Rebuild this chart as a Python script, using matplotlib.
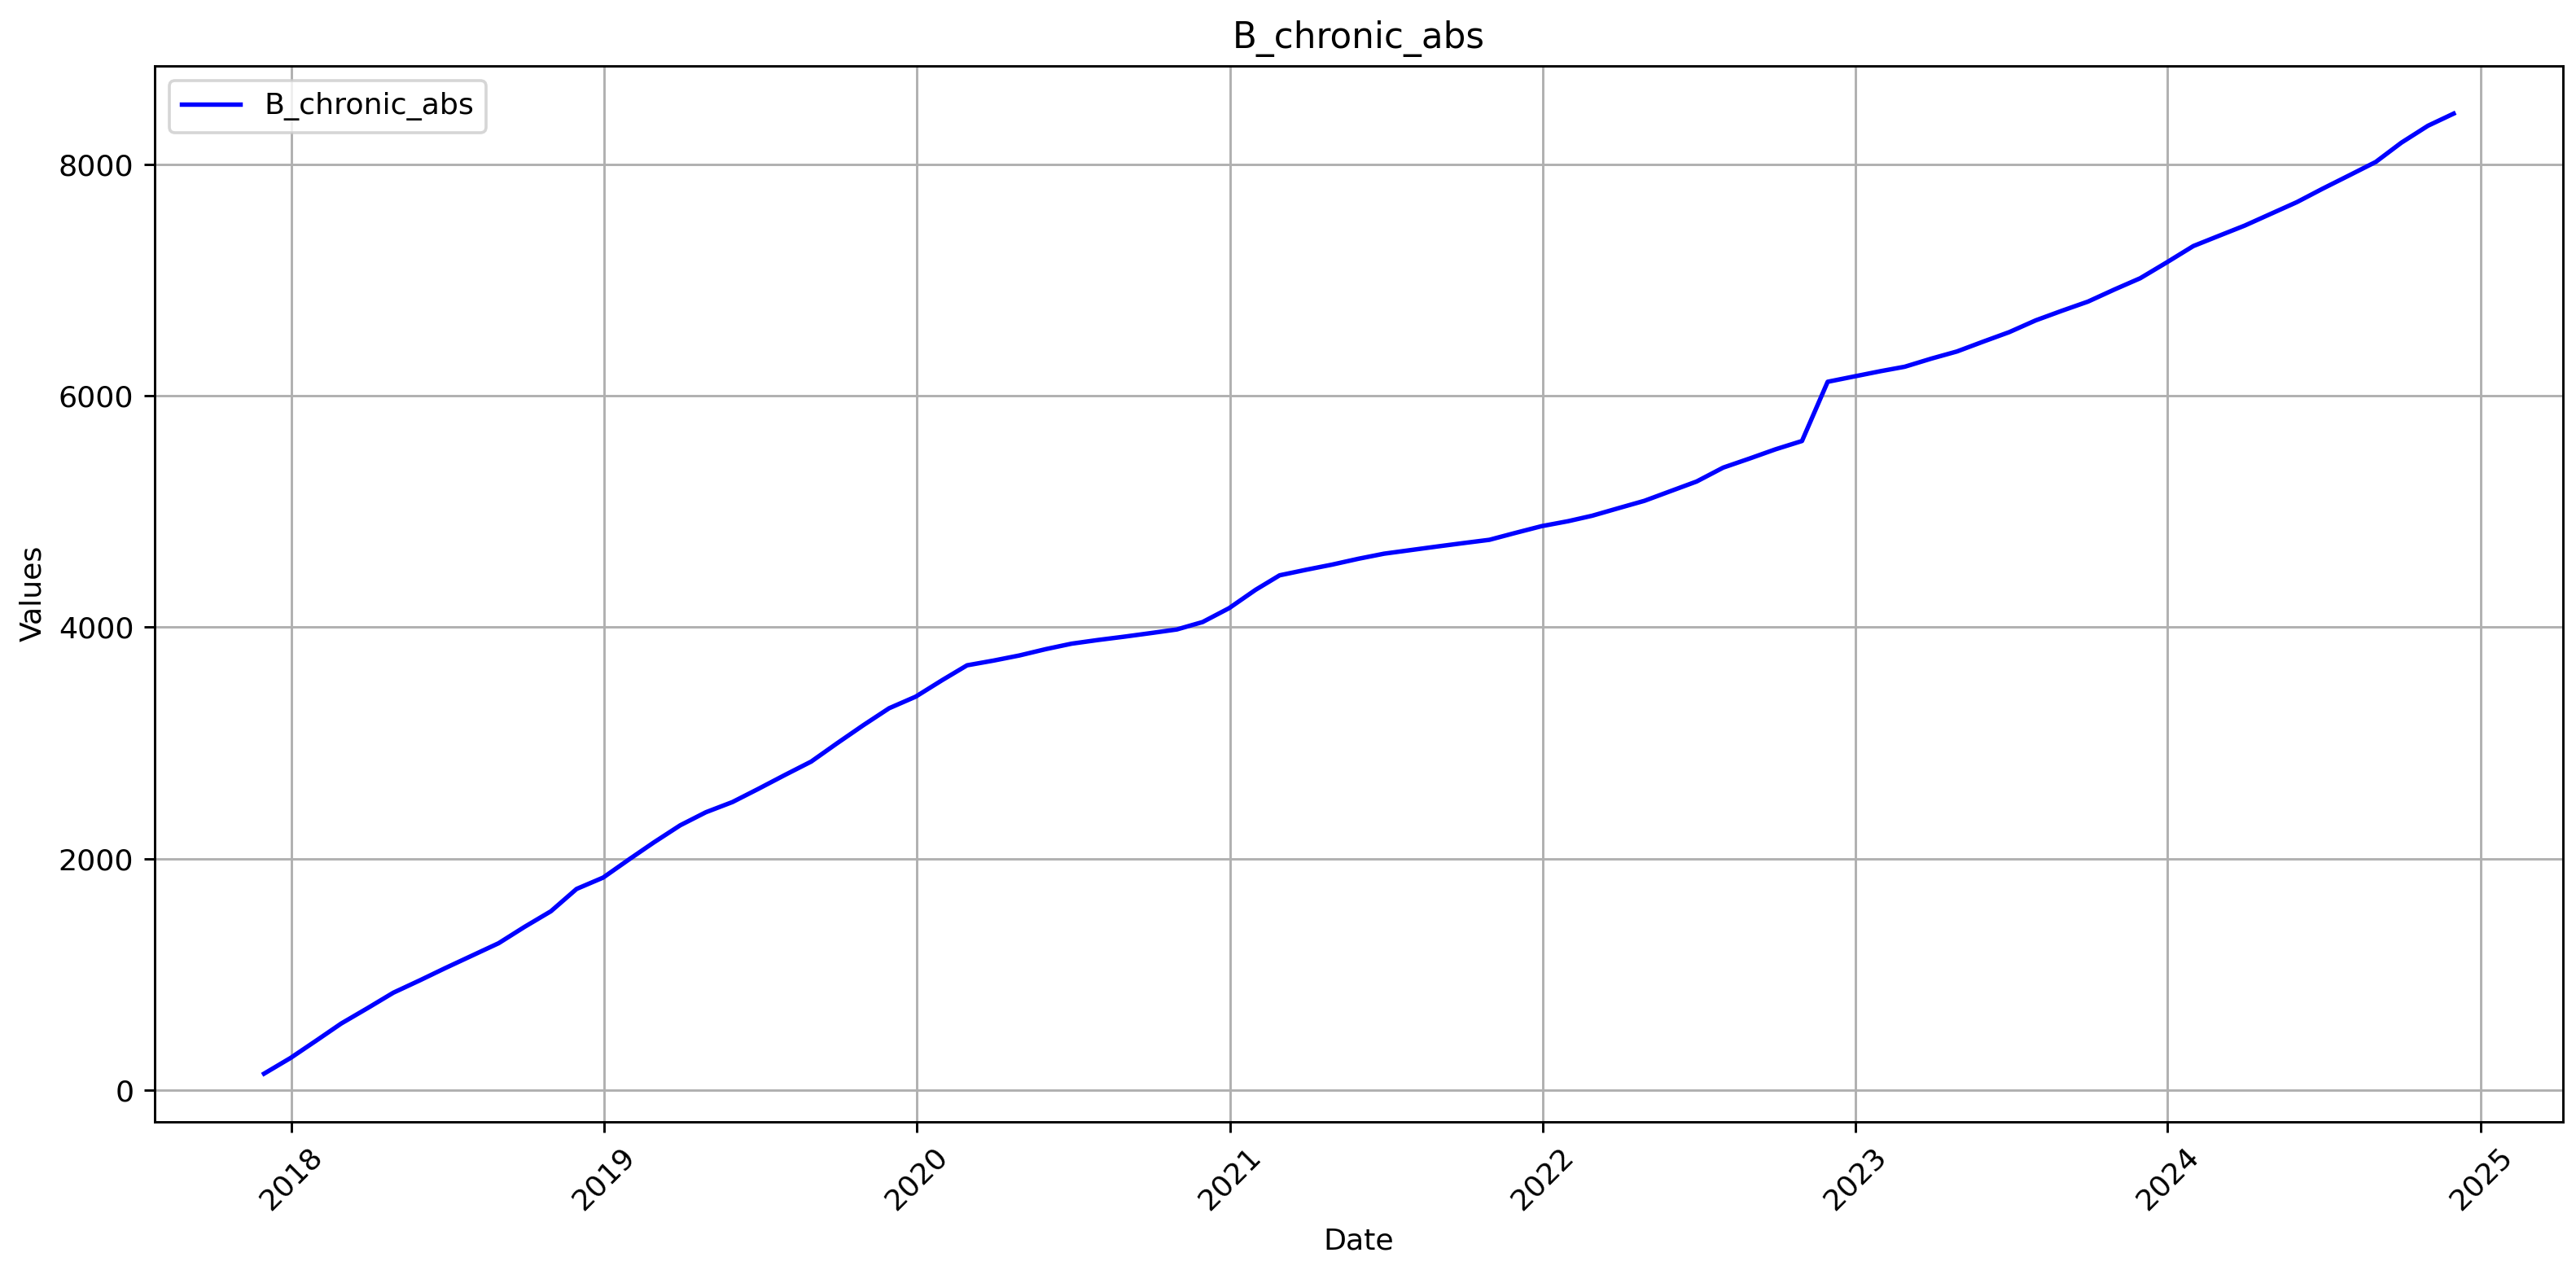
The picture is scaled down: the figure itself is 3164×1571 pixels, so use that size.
import matplotlib
matplotlib.use("Agg")
import matplotlib.pyplot as plt
import pandas as pd

# month-end dates, Nov 2017 .. Nov 2024
dates = pd.date_range("2017-11-30", "2024-11-30", freq="ME")

b_chronic_abs = [
    140, 276,
    431, 573, 707, 840, 947, 1054, 1161, 1268, 1408, 1544, 1737, 1835,
    1996, 2138, 2287, 2400, 2488, 2601, 2721, 2838, 2995, 3153, 3299, 3399,
    3542, 3670, 3711, 3755, 3810, 3857, 3889, 3918, 3948, 3980, 4044, 4164,
    4323, 4448, 4496, 4540, 4591, 4635, 4666, 4697, 4726, 4755, 4814, 4873,
    4916, 4963, 5029, 5092, 5177, 5259, 5379, 5458, 5537, 5609, 6121, 6167,
    6213, 6251, 6321, 6383, 6469, 6550, 6652, 6736, 6814, 6919, 7016, 7153,
    7294, 7380, 7471, 7571, 7674, 7790, 7905, 8021, 8188, 8334, 8439,
]

DPI = 262
fig, ax = plt.subplots(figsize=(3164 / DPI, 1571 / DPI), dpi=DPI)
fig.subplots_adjust(left=0.06, right=0.995, bottom=0.123, top=0.9487)

ax.plot(dates, b_chronic_abs, color="blue", label="B_chronic_abs")
ax.set_title("B_chronic_abs")
ax.set_xlabel("Date")
ax.set_ylabel("Values")
ax.legend(loc="upper left")
ax.grid(True)
plt.setp(ax.get_xticklabels(), rotation=45)

fig.savefig("out.png", dpi=DPI)
